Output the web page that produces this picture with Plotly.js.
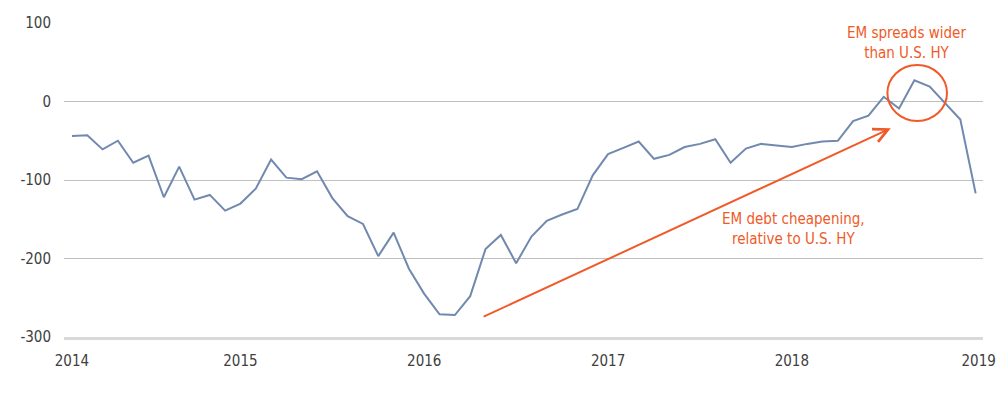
<!DOCTYPE html>
<html>
<head>
<meta charset="utf-8">
<script src="https://cdn.plot.ly/plotly-3.0.1.min.js"></script>
<style>
  html, body { margin: 0; padding: 0; background: #ffffff; }
  #chart { width: 1008px; height: 397px; }
</style>
</head>
<body>
<div id="chart"></div>
<script>
// Monthly observations, Jan 2014 – Dec 2018
const months = [
  "2014-01","2014-02","2014-03","2014-04","2014-05","2014-06","2014-07","2014-08","2014-09","2014-10","2014-11","2014-12",
  "2015-01","2015-02","2015-03","2015-04","2015-05","2015-06","2015-07","2015-08","2015-09","2015-10","2015-11","2015-12",
  "2016-01","2016-02","2016-03","2016-04","2016-05","2016-06","2016-07","2016-08","2016-09","2016-10","2016-11","2016-12",
  "2017-01","2017-02","2017-03","2017-04","2017-05","2017-06","2017-07","2017-08","2017-09","2017-10","2017-11","2017-12",
  "2018-01","2018-02","2018-03","2018-04","2018-05","2018-06","2018-07","2018-08","2018-09","2018-10","2018-11","2018-12"
];
const spreadDiff = [
  -44, -43, -61, -50, -78, -69, -122, -83, -125, -119, -139, -130,
  -111, -74, -97, -99, -89, -123, -146, -156, -197, -167, -213, -245,
  -271, -272, -248, -188, -170, -206, -172, -152, -144, -137, -94, -67,
  -59, -51, -73, -68, -58, -54, -48, -78, -60, -54, -56, -58,
  -54, -51, -50, -25, -18, 6, -9, 27, 19, -2, -23, -117
];
const xTickLabels = ["2014","2015","2016","2017","2018","2019"];
const yTickValues = [100, 0, -100, -200, -300];
const yTickLabels = ["100","0","-100","-200","-300"];
const noteWider = "EM spreads wider<br>than U.S. HY";
const noteCheap = "EM debt cheapening,<br>relative to U.S. HY";

const FONT = "'DejaVu Sans Condensed', 'Liberation Sans Narrow', sans-serif";
const ORANGE = "#f05a28";

const xIdx = months.map((m, i) => i);

const trace = {
  x: xIdx,
  y: spreadDiff,
  text: months,
  type: "scatter",
  mode: "lines",
  line: { color: "#7189ae", width: 2 },
  hoverinfo: "text+y"
};

const annFont = { family: FONT, size: 15, color: ORANGE };
const annotations = [
  { x: 54.5, y: 74, xref: "x", yref: "y", text: noteWider, showarrow: false, font: annFont, xanchor: "center", yanchor: "middle" },
  { x: 47.1, y: -162, xref: "x", yref: "y", text: noteCheap, showarrow: false, font: annFont, xanchor: "center", yanchor: "middle" },
  { x: 53.46, y: -34, xref: "x", yref: "y", ax: 26.78, ay: -275, axref: "x", ayref: "y",
    text: "", showarrow: true, arrowhead: 5, arrowsize: 1.4, arrowwidth: 2, arrowcolor: ORANGE, standoff: 0, startstandoff: 0 }
];

const layout = {
  width: 1008,
  height: 397,
  margin: { l: 64, r: 25, t: 23, b: 60 },
  paper_bgcolor: "#ffffff",
  plot_bgcolor: "#ffffff",
  showlegend: false,
  font: { family: FONT, size: 15, color: "#404040" },
  xaxis: {
    range: [-0.52, 59.48],
    tickmode: "array",
    tickvals: [0, 11, 23, 35, 47, 59.2],
    ticktext: xTickLabels,
    showgrid: false,
    zeroline: false,
    showline: true,
    linecolor: "#d9d9d9",
    linewidth: 3,
    ticks: "",
    ticklabelstandoff: 8,
    tickfont: { family: FONT, size: 15, color: "#404040" }
  },
  yaxis: {
    range: [-300, 100],
    tickmode: "array",
    tickvals: yTickValues,
    ticktext: yTickLabels,
    showgrid: true,
    gridcolor: "#c0c0c0",
    gridwidth: 1,
    zeroline: false,
    showline: false,
    ticks: "",
    ticklabelstandoff: 12,
    tickfont: { family: FONT, size: 15, color: "#404040" }
  },
  shapes: [
    { type: "circle", xref: "x", yref: "y", x0: 53.24, x1: 57.13, y0: -24.8, y1: 46.5,
      line: { color: ORANGE, width: 2 } }
  ],
  annotations: annotations
};

Plotly.newPlot("chart", [trace], layout, { displayModeBar: false, staticPlot: true });
</script>
</body>
</html>
